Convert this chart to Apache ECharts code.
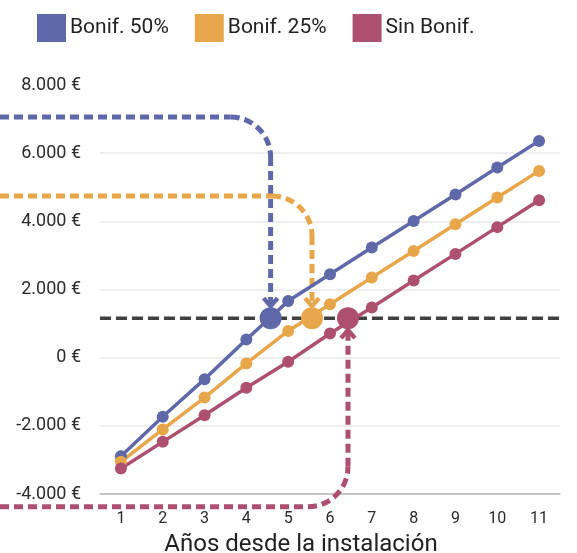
<!DOCTYPE html>
<html>
<head>
<meta charset="utf-8">
<script src="https://cdn.jsdelivr.net/npm/echarts@6/dist/echarts.min.js"></script>
<style>html,body{margin:0;padding:0;background:#fff}#c{width:577px;height:553px}</style>
</head>
<body>
<div id="c"></div>
<script>
// ---- data ----
const years = ['1','2','3','4','5','6','7','8','9','10','11'];
const seriesNames = ['Bonif. 50%', 'Bonif. 25%', 'Sin Bonif.'];
const bonif50 = [-2890, -1735, -630, 535, 1660, 2450, 3230, 4010, 4790, 5580, 6360];
const bonif25 = [-3055, -2105, -1170, -170, 785, 1570, 2350, 3130, 3915, 4700, 5480];
const sinBonif = [-3250, -2470, -1690, -885, -120, 710, 1470, 2265, 3045, 3830, 4620];
const breakEvenValue = 1160;              // level of the dark dashed reference line
const breakEvenYear = [4.58, 5.57, 6.43]; // where each series crosses it
const annotationFrom = [7060, 4745, -4375]; // level where each callout line comes from

// ---- styles ----
const colors = ['#5f68a8', '#e8a64b', '#ad506f'];
const FONT = 'Roboto';

const chart = echarts.init(document.getElementById('c'), null, {renderer: 'canvas'});

const fmt = v => String(v).replace(/\B(?=(\d{3})+(?!\d))/g, '.') + ' €';

const values = [bonif50, bonif25, sinBonif];
const lineSeries = seriesNames.map((n, i) => ({
  name: n,
  type: 'line',
  data: values[i],
  xAxisIndex: 0,
  symbol: 'circle',
  symbolSize: 12,
  lineStyle: {width: 3.5, color: colors[i]},
  itemStyle: {color: colors[i], opacity: 1},
  z: 5
}));

const titleText = {
  type: 'text',
  x: 301, y: 545,
  style: {text: 'Años desde la instalación', fontSize: 24, fill: '#222', fontFamily: FONT, align: 'center', verticalAlign: 'middle'}
};

chart.setOption({
  animation: false,
  color: colors,
  textStyle: {fontFamily: FONT},
  legend: {
    left: 37, top: 14,
    padding: 0,
    icon: 'rect',
    itemWidth: 29, itemHeight: 28, itemGap: 26,
    data: seriesNames,
    textStyle: {fontSize: 21, color: '#222', fontFamily: FONT, padding: [0, 0, 0, -1]}
  },
  grid: {left: 100, right: 17, top: 85, bottom: 59, containLabel: false},
  xAxis: [{
    type: 'category',
    data: years,
    boundaryGap: true,
    axisLine: {onZero: false, lineStyle: {color: '#b5b5b5', width: 1.5}},
    axisTick: {show: false},
    axisLabel: {fontSize: 16, color: '#2b2b2b', margin: 17, fontFamily: FONT},
    splitLine: {show: false}
  }, {
    type: 'value',
    min: 0.5, max: 11.5,
    show: false,
    position: 'top'
  }],
  yAxis: {
    type: 'value',
    min: -4000, max: 8000, interval: 2000,
    axisLine: {show: false},
    axisTick: {show: false},
    axisLabel: {fontSize: 18, color: '#2b2b2b', margin: 19, formatter: fmt, fontFamily: FONT},
    splitLine: {show: true, showMaxLine: false, lineStyle: {color: '#e8e8e8', width: 1.5}}
  },
  graphic: [titleText],
  series: [
    {
      type: 'line',
      xAxisIndex: 1,
      data: [[0.5, breakEvenValue], [12.5, breakEvenValue]],
      symbol: 'none',
      clip: false,
      silent: true,
      lineStyle: {color: '#404040', width: 3.5, type: [11, 5]},
      z: 2
    },
    ...lineSeries,
    {
      type: 'scatter',
      xAxisIndex: 1,
      data: breakEvenYear.map((x, i) => ({value: [x, breakEvenValue], itemStyle: {color: colors[i], opacity: 1}})),
      symbolSize: 22,
      itemStyle: {opacity: 1},
      z: 6
    }
  ]
});

// callout arrows, positioned through the chart's own scales
const finder = {xAxisIndex: 1, yAxisIndex: 0};
const callouts = [];
const LW = 5;
breakEvenYear.forEach((x, i) => {
  const c = colors[i];
  const corner = chart.convertToPixel(finder, [x, annotationFrom[i]]);
  const tip = chart.convertToPixel(finder, [x, breakEvenValue]);
  const dir = tip[1] > corner[1] ? 1 : -1;
  const r = 40, gap = 12, aw = 7, ah = 8, k = 0.5523;
  const cx = corner[0], cy = corner[1];
  const tipY = tip[1] - dir * gap;
  const p0 = [cx - r, cy], p1 = [cx, cy + dir * r];
  const dash = {stroke: c, lineWidth: LW, fill: null, lineDash: [9, 5]};
  callouts.push({type: 'polyline', z: 3, silent: true, shape: {points: [[0, cy], p0]}, style: Object.assign({}, dash)});
  callouts.push({type: 'bezierCurve', z: 3, silent: true,
    shape: {x1: p0[0], y1: p0[1], cpx1: p0[0] + k * r, cpy1: p0[1], cpx2: p1[0], cpy2: p1[1] - dir * k * r, x2: p1[0], y2: p1[1]},
    style: Object.assign({}, dash)});
  callouts.push({type: 'polyline', z: 3, silent: true, shape: {points: [p1, [cx, tipY - dir * 2]]}, style: Object.assign({}, dash)});
  callouts.push({type: 'polyline', z: 3, silent: true,
    shape: {points: [[cx - aw, tipY - dir * ah], [cx, tipY], [cx + aw, tipY - dir * ah]]},
    style: {stroke: c, lineWidth: 4.5, fill: null}});
});
chart.setOption({graphic: [titleText, ...callouts]}, {replaceMerge: ['graphic']});
</script>
</body>
</html>
